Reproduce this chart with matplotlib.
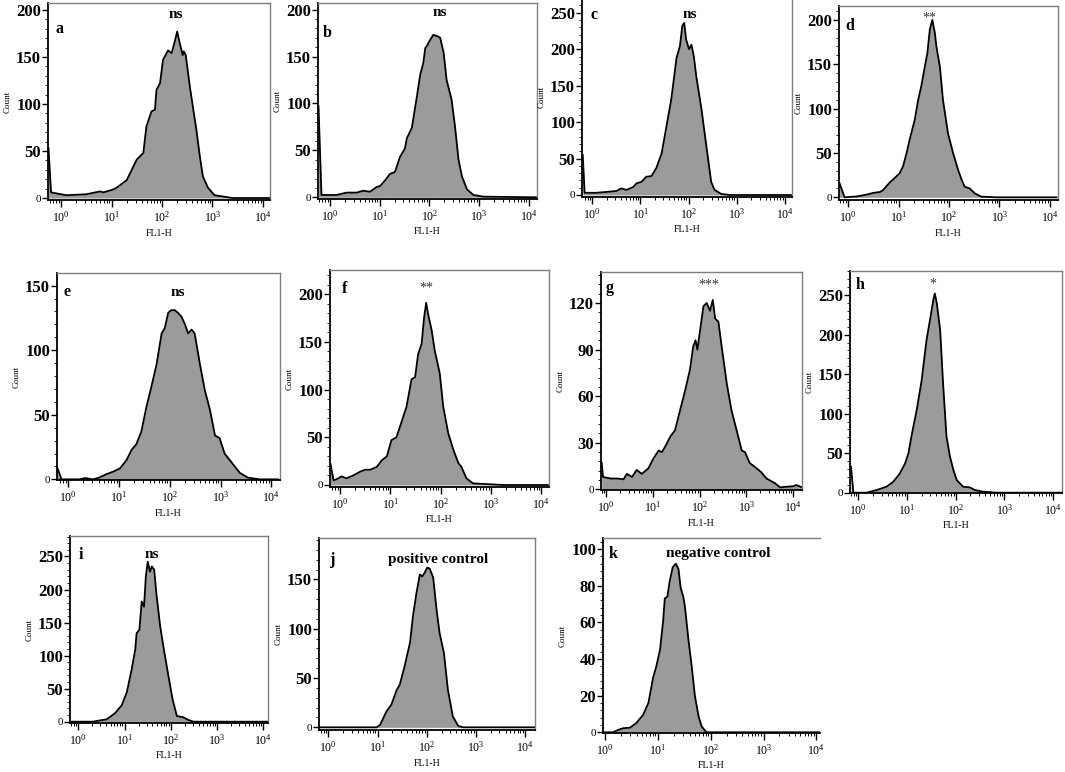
import matplotlib
matplotlib.use('Agg')
import matplotlib.pyplot as plt
import matplotlib.ticker as mtick
import numpy as np

plt.rcParams['font.family'] = ['Liberation Serif', 'DejaVu Serif']
plt.rcParams['mathtext.fontset'] = 'stix'

# histogram outlines: log10(FL1-H) positions and counts
a_logx = [-0.25, -0.2, -0.1, 0.1, 0.5, 0.77, 0.84, 1.03, 1.1, 1.3, 1.5, 1.63, 1.69, 1.79, 1.86, 1.89, 1.96, 2.02,
          2.09, 2.12, 2.19, 2.25, 2.3, 2.35, 2.41, 2.43, 2.47, 2.55, 2.62, 2.68, 2.75, 2.81, 2.91, 3.04, 3.4, 4.14]
a_count = [53, 6, 5, 3, 4, 7, 6, 9, 11, 19, 41, 48, 76, 92, 94, 115, 122, 147,
           154, 157, 154, 166, 177, 165, 152, 156, 152, 119, 94, 73, 44, 23, 11, 3, 0, 0]

b_logx = [-0.23, -0.17, 0.13, 0.34, 0.54, 0.67, 0.81, 0.94, 1.01, 1.11, 1.21, 1.31, 1.41, 1.51, 1.55, 1.65, 1.75,
          1.82, 1.88, 1.92, 1.95, 2.0, 2.08, 2.15, 2.22, 2.29, 2.35, 2.45, 2.52, 2.59, 2.66, 2.76, 2.89, 3.09, 4.17]
b_count = [97, 2.5, 2.5, 5, 5, 7, 6, 11, 12, 18, 25, 27, 43, 52, 63, 74, 107,
           131, 143, 159, 161, 166, 173, 172, 170, 154, 125, 104, 75, 40, 22, 8.5, 2.5, 0.7, 0]

c_logx = [-0.2, -0.16, 0.08, 0.36, 0.5, 0.6, 0.71, 0.85, 0.92, 1.02, 1.12, 1.23, 1.33, 1.44, 1.54, 1.64, 1.75,
          1.82, 1.87, 1.91, 1.95, 2.01, 2.06, 2.11, 2.16, 2.27, 2.37, 2.47, 2.54, 2.68, 2.86, 4.14]
c_count = [55, 3, 3, 4.6, 5.5, 9, 7, 11, 16, 18, 25, 26, 37, 57, 94, 131, 188,
           204, 232, 236, 213, 200, 206, 190, 163, 117, 67, 18, 7, 1.4, 0, 0]

d_logx = [-0.17, -0.07, 0.17, 0.36, 0.5, 0.63, 0.69, 0.83, 0.89, 1.02, 1.09, 1.16, 1.22, 1.32, 1.39, 1.45, 1.52,
          1.57, 1.62, 1.67, 1.72, 1.75, 1.82, 1.88, 1.98, 2.08, 2.18, 2.25, 2.31, 2.41, 2.51, 2.64, 2.94, 4.13]
d_count = [16, 0, 1, 3, 5, 6, 8, 17, 20, 27, 35, 50, 65, 87, 110, 125, 147,
           162, 189, 200, 185, 170, 147, 110, 72, 50, 31, 20, 12, 10, 4.5, 0.75, 0, 0]

e_logx = [-0.21, -0.13, 0.23, 0.33, 0.49, 0.62, 0.75, 0.89, 1.02, 1.15, 1.25, 1.34, 1.44, 1.54, 1.64, 1.74, 1.84,
          1.9, 1.97, 2.03, 2.1, 2.16, 2.23, 2.3, 2.36, 2.43, 2.49, 2.59, 2.69, 2.79, 2.89, 2.98, 3.08, 3.18, 3.28,
          3.38, 3.54, 3.77, 4.13]
e_count = [8.5, 0, 0, 1, 0, 1.5, 4, 6, 8.5, 15, 23, 27, 37, 56, 72, 89, 113,
           117, 129, 131, 131, 129, 126, 120, 113, 116, 113, 90, 69, 54, 34, 32, 20, 15, 10,
           5, 1.3, 0, 0]

f_logx = [-0.19, -0.13, -0.07, 0.03, 0.13, 0.26, 0.4, 0.5, 0.6, 0.73, 0.83, 0.93, 1.02, 1.12, 1.22, 1.32, 1.42,
          1.49, 1.55, 1.62, 1.67, 1.71, 1.75, 1.82, 1.88, 1.98, 2.05, 2.15, 2.25, 2.35, 2.41, 2.51, 2.64, 3.24, 4.13]
f_count = [22, 5, 6, 9, 7, 10, 14, 16, 16, 19, 26, 30, 47, 50, 66, 82, 111,
           113, 137, 148, 176, 191, 179, 162, 141, 117, 82, 54, 37, 23, 19, 7, 1.7, 0, 0]

g_logx = [-0.1, -0.07, 0.09, 0.23, 0.37, 0.44, 0.55, 0.65, 0.76, 0.9, 1.01, 1.12, 1.19, 1.26, 1.37, 1.47, 1.58,
          1.69, 1.79, 1.86, 1.91, 1.95, 2.01, 2.08, 2.15, 2.22, 2.28, 2.33, 2.4, 2.47, 2.58, 2.68, 2.79, 2.9, 2.97,
          3.07, 3.22, 3.32, 3.43, 3.61, 3.72, 3.86, 4.0, 4.07, 4.19]
g_count = [17, 8, 7, 7, 6.5, 10, 8, 12.5, 10, 13.5, 20, 25, 24, 27.5, 34, 38, 51,
           64, 77, 92, 96, 90, 103, 118, 120, 115, 122, 110, 108, 92, 68, 51, 38, 25, 24,
           17, 13.5, 11, 7, 4, 1.3, 1.7, 2, 2.8, 1.3]

h_logx = [-0.15, -0.1, 0.17, 0.38, 0.58, 0.72, 0.85, 0.96, 1.03, 1.09, 1.2, 1.3, 1.4, 1.47, 1.54, 1.57, 1.61,
          1.68, 1.74, 1.81, 1.88, 1.95, 2.02, 2.15, 2.29, 2.39, 2.56, 2.84, 4.17]
h_count = [33, 0, 0, 3.4, 7.6, 14, 24, 37, 50, 71, 105, 142, 193, 218, 244, 252, 240,
           206, 138, 71, 46, 29, 16, 7.6, 6.7, 3.4, 1.3, 0, 0]

i_logx = [-0.17, 0.32, 0.43, 0.61, 0.79, 0.94, 1.05, 1.15, 1.23, 1.26, 1.32, 1.37, 1.42, 1.46, 1.5, 1.55, 1.59,
          1.64, 1.69, 1.77, 1.85, 1.95, 2.04, 2.13, 2.27, 2.38, 2.49, 4.1]
i_count = [0, 0, 1.5, 3.5, 12.6, 25, 45, 78, 109, 134, 139, 182, 174, 220, 242, 227, 235,
           230, 192, 144, 109, 68, 33, 8.6, 6.6, 2.5, 0, 0]

j_logx = [-0.17, 0.98, 1.05, 1.18, 1.28, 1.39, 1.45, 1.55, 1.66, 1.72, 1.79, 1.86, 1.91, 1.96, 2.01, 2.06, 2.13,
          2.2, 2.26, 2.35, 2.43, 2.53, 2.64, 2.74, 4.2]
j_count = [0, 0, 2.4, 16, 23, 38, 43, 62, 86, 113, 136, 155, 153, 157, 162, 161, 152,
           119, 96, 75, 38, 11, 1.4, 0, 0]

k_logx = [-0.04, 0.15, 0.25, 0.34, 0.47, 0.59, 0.72, 0.82, 0.91, 0.97, 1.04, 1.1, 1.13, 1.18, 1.22, 1.28, 1.34,
          1.39, 1.43, 1.48, 1.51, 1.58, 1.64, 1.7, 1.77, 1.83, 1.92, 4.07]
k_count = [0, 0, 1.3, 2.2, 2.5, 5, 9.5, 16, 30, 36, 45, 61, 73, 74, 82, 90, 92,
           89, 79, 74, 69, 50, 36, 20, 8.6, 3.1, 0, 0]

letters = ['a', 'b', 'c', 'd', 'e', 'f', 'g', 'h', 'i', 'j', 'k']
tags = ['ns', 'ns', 'ns', '**', 'ns', '**', '***', '*', 'ns', 'positive control', 'negative control']
y_ticks = [[0, 50, 100, 150, 200], [0, 50, 100, 150, 200], [0, 50, 100, 150, 200, 250],
           [0, 50, 100, 150, 200], [0, 50, 100, 150], [0, 50, 100, 150, 200], [0, 30, 60, 90, 120],
           [0, 50, 100, 150, 200, 250], [0, 50, 100, 150, 200, 250], [0, 50, 100, 150],
           [0, 20, 40, 60, 80, 100]]
series = [(a_logx, a_count), (b_logx, b_count), (c_logx, c_count), (d_logx, d_count),
          (e_logx, e_count), (f_logx, f_count), (g_logx, g_count), (h_logx, h_count),
          (i_logx, i_count), (j_logx, j_count), (k_logx, k_count)]

# layout in pixels: axes box (left, top, right, bottom), x limits (log10), y limits,
# letter position, tag position
W, H = 1065, 772
layout = [
    ((48, 3, 270, 200), (-0.26, 4.14), (-2.1, 207.4), (60, 29), (176, 14)),
    ((318, 3, 537, 199), (-0.24, 4.17), (-1.8, 207), (327, 33), (440, 13)),
    ((582, -4, 792, 197), (-0.215, 4.15), (-2.75, 273), (594, 15), (690, 15)),
    ((839, 6, 1058, 200), (-0.18, 4.16), (-3, 215.6), (850, 26), (929, 18)),
    ((57, 273, 280, 480), (-0.22, 4.17), (-0.5, 159.8), (67, 292), (178, 292)),
    ((330, 270, 549, 487), (-0.2, 4.15), (-2.1, 225.4), (345, 289), (426, 288)),
    ((601, 272, 802, 490), (-0.114, 4.19), (-0.4, 140), (610, 288), (709, 285)),
    ((850, 271, 1062, 493), (-0.17, 4.18), (-0.4, 280.5), (860, 285), (933, 284)),
    ((70, 536, 268, 723), (-0.18, 4.1), (-2, 281), (81, 555), (152, 555)),
    ((319, 538, 535, 730), (-0.19, 4.2), (-2.7, 192), (332, 560), (438, 560)),
    ((603, 538, 820, 733), (-0.04, 4.07), (-0.4, 106), (613, 554), (718, 554)),
]

fill_color = '#9b9b9b'
frame_color = '#7f7f7f'

fig = plt.figure(figsize=(W / 100, H / 100), dpi=100)


def px(x, y):
    return x / W, 1 - y / H


for n in range(len(letters)):
    (l, t, r, b), xl, yl, let_at, tag_at = layout[n]
    logx, count = series[n]
    xs = 10 ** np.array(logx)

    ax = fig.add_axes([l / W, 1 - b / H, (r - l) / W, (b - t) / H])
    ax.fill_between(xs, count, 0, color=fill_color, lw=0)
    ax.plot(xs, count, color='black', lw=1.3)

    ax.set_xscale('log')
    ax.set_xlim(10 ** xl[0], 10 ** xl[1])
    ax.set_ylim(*yl)
    ax.set_xticks([1, 10, 100, 1000, 10000])
    ax.xaxis.set_minor_locator(mtick.LogLocator(base=10, subs=np.arange(2, 10), numticks=12))
    ax.xaxis.set_minor_formatter(mtick.NullFormatter())
    ax.set_yticks(y_ticks[n])
    ax.yaxis.set_minor_locator(mtick.AutoMinorLocator(5))

    ax.tick_params(axis='x', which='major', length=5, width=1, direction='out', labelsize=8.5, pad=2)
    ax.tick_params(axis='x', which='minor', length=2.5, width=0.7, direction='out')
    ax.tick_params(axis='y', which='major', length=4, width=1, direction='out', labelsize=12, pad=1)
    ax.tick_params(axis='y', which='minor', length=2, width=0.6, direction='out')
    for i, lbl in enumerate(ax.get_yticklabels()):
        if i == 0:
            lbl.set_fontsize(8)
        else:
            lbl.set_fontweight('bold')

    for side in ['left', 'bottom']:
        ax.spines[side].set_color('black')
        ax.spines[side].set_linewidth(1.3)
    for side in ['top', 'right']:
        ax.spines[side].set_color(frame_color)
        ax.spines[side].set_linewidth(1)
    if letters[n] == 'k':
        ax.spines['right'].set_visible(False)

    fig.text(*px(l - 40, (t + b) / 2), 'Count', rotation=90, fontsize=6.5, ha='center', va='center')
    fig.text(*px((l + r) / 2, b + 33), 'FL1-H', fontsize=7, ha='center', va='center')
    fig.text(*px(*let_at), letters[n], fontsize=11.5, fontweight='bold', ha='center', va='center')
    if '*' in tags[n]:
        fig.text(*px(*tag_at), tags[n], fontsize=10, color='#333333', ha='center', va='center')
    else:
        fig.text(*px(*tag_at), tags[n], fontsize=11, fontweight='bold', ha='center', va='center')

fig.savefig('out.png', dpi=100)
